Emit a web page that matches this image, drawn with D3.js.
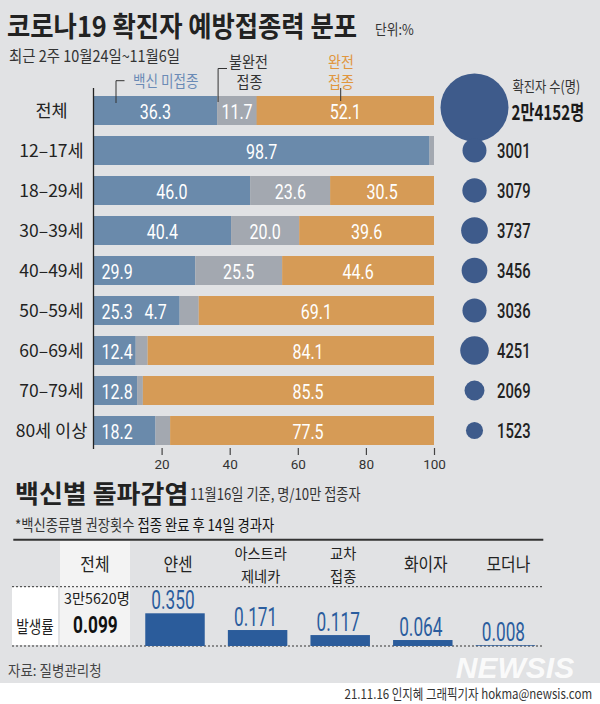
<!DOCTYPE html>
<html><head><meta charset="utf-8">
<script src="https://cdn.jsdelivr.net/npm/d3@7"></script>
<style>
html,body{margin:0;padding:0;background:#fff;}
svg{display:block;}
</style></head><body>
<svg id="c" width="600" height="704"></svg>
<script>
// ---------- data ----------
const groups = ["전체","12–17세","18–29세","30–39세","40–49세","50–59세","60–69세","70–79세","80세 이상"];
const unvaccinated = [36.3, 98.7, 46.0, 40.4, 29.9, 25.3, 12.4, 12.8, 18.2];
const partial      = [11.7, 1.3, 23.6, 20.0, 25.5, 4.7, 3.5, 1.7, 4.3];
const full         = [52.1, 0, 30.5, 39.6, 44.6, 69.1, 84.1, 85.5, 77.5];
const cases        = [24152, 3001, 3079, 3737, 3456, 3036, 4251, 2069, 1523];
const caseLabels   = ["2만4152명","3001","3079","3737","3456","3036","4251","2069","1523"];
const xTicks = [20, 40, 60, 80, 100];

const vaccines = ["전체","얀센","아스트라제네카","교차접종","화이자","모더나"];
const vaccineHeaders = [["전체"],["얀센"],["아스트라","제네카"],["교차","접종"],["화이자"],["모더나"]];
const rates = [0.099, 0.350, 0.171, 0.117, 0.064, 0.008];
const totalBreakthrough = "3만5620명";

// ---------- setup ----------
const KR = "'Noto Sans CJK KR', 'Noto Sans', sans-serif";
const NUM = "Roboto, 'Noto Sans', sans-serif";
const C = {bg:"#e1e2e4", blue:"#6a8aab", gray:"#a3a8b0", orange:"#d69b56",
           circle:"#3e5b8b", bar2:"#2b5c9b", legBlue:"#6b8bb6", legOrange:"#e0963e"};
const svg = d3.select("#c");

function txt(parent, x, y, str, o={}) {
  const g = parent.append("g").attr("transform", `translate(${x},${y}) scale(${o.sx||1},1)`);
  const t = g.append("text")
    .attr("text-anchor", o.anchor || "start")
    .style("font-family", o.font || KR)
    .style("font-size", (o.size || 14) + "px")
    .style("font-weight", o.weight || 400)
    .style("font-style", o.style || "normal")
    .attr("fill", o.fill || "#222")
    .text(str);
  if (o.opacity != null) t.attr("opacity", o.opacity);
  return t;
}

// background
svg.append("rect").attr("width",600).attr("height",683).attr("fill",C.bg);
svg.append("rect").attr("y",683).attr("width",600).attr("height",21).attr("fill","#fff");

// titles
txt(svg, 7, 37, "코로나19 확진자 예방접종력 분포", {size:28, sx:0.905, weight:700, fill:"#222"});
txt(svg, 375, 35, "단위:%", {size:14.5, sx:0.88, fill:"#333"});
txt(svg, 9, 62, "최근 2주 10월24일~11월6일", {size:16, sx:0.9, fill:"#333"});

// ---------- stacked bars ----------
const x = d3.scaleLinear().domain([0,100]).range([93.5, 434]);
const y = d3.scaleBand().domain(groups).range([90.5, 450.5]).paddingInner(0.275).paddingOuter(0.1375);
const bh = y.bandwidth();

const rows = svg.append("g").selectAll("g").data(groups).join("g")
  .attr("transform", d => `translate(0,${y(d)})`);

rows.append("rect").attr("x", x(0)).attr("height", bh)
  .attr("width", (d,i) => x(unvaccinated[i]) - x(0)).attr("fill", C.blue);
rows.append("rect").attr("x", (d,i) => x(unvaccinated[i])).attr("height", bh)
  .attr("width", (d,i) => x(Math.max(unvaccinated[i] + partial[i], 100 - full[i])) - x(unvaccinated[i]))
  .attr("fill", C.gray);
rows.filter((d,i) => full[i] > 0).append("rect")
  .attr("x", d => x(100 - full[groups.indexOf(d)])).attr("height", bh)
  .attr("width", d => x(100) - x(100 - full[groups.indexOf(d)])).attr("fill", C.orange);

// value labels
const LBL = {size:20, sx:0.8, font:NUM, fill:"#fff"};
groups.forEach((g, i) => {
  const yy = y(g) + 23.3;
  const u = unvaccinated[i], p = partial[i], f = full[i];
  if (u >= 32) txt(svg, (x(0) + x(u)) / 2, yy, u.toFixed(1), {...LBL, anchor:"middle"});
  else txt(svg, x(0) + 8, yy, u.toFixed(1), LBL);
  if (p >= 8) txt(svg, (x(u) + x(u + p)) / 2, yy, p.toFixed(1), {...LBL, anchor:"middle"});
  else if (p >= 4.5) txt(svg, x(u) - 13, yy, p.toFixed(1), {...LBL, anchor:"end"});
  if (f > 0) {
    const cx = Math.min(385, Math.max(308, (x(100 - f) + x(100)) / 2));
    txt(svg, cx, yy, f.toFixed(1), {...LBL, anchor:"middle"});
  }
  txt(svg, 51.5, y(g) + bh/2 + 6.5, g, {size:17.5, anchor:"middle", fill:"#222"});
});

// axis
svg.append("line").attr("x1", x(0)).attr("x2", x(0)).attr("y1", 88).attr("y2", 449)
  .attr("stroke","#222").attr("stroke-width",1.3);
const ax = svg.append("g").attr("transform","translate(0,448)")
  .call(d3.axisBottom(x).tickValues(xTicks).tickSize(7).tickPadding(4));
ax.select(".domain").remove();
ax.selectAll("line").attr("stroke","#444").attr("stroke-width",1.2);
ax.selectAll("text").style("font-family", NUM).style("font-size","13.5px").attr("fill","#333");

// legend annotations
const lg = svg.append("g").attr("fill","none").attr("stroke","#333").attr("stroke-width",1);
lg.append("path").attr("d", "M116,103V80.7H124.5");
lg.append("path").attr("d", `M${x(unvaccinated[0]) + 1},102V68.5H227`);
lg.append("path").attr("d", "M340.7,88V101");
txt(svg, 133, 86.5, "백신 미접종", {size:16, sx:0.85, fill:C.legBlue});
txt(svg, 248.5, 67.5, "불완전", {size:16, sx:0.88, anchor:"middle", fill:"#333"});
txt(svg, 249.5, 87.5, "접종", {size:16, sx:0.88, anchor:"middle", fill:"#333"});
txt(svg, 341, 67.5, "완전", {size:16, sx:0.88, anchor:"middle", fill:C.legOrange});
txt(svg, 341, 87.5, "접종", {size:16, sx:0.88, anchor:"middle", fill:C.legOrange});

// circles
const r = d3.scaleSqrt().domain([0, d3.max(cases)]).range([0, 34]);
svg.append("g").selectAll("circle").data(cases).join("circle")
  .attr("cx", 474.5).attr("cy", (d,i) => y(groups[i]) + bh/2 - (i === 0 ? 3 : 0))
  .attr("r", d => r(d)).attr("fill", C.circle);
txt(svg, 512.5, 91.5, "확진자 수(명)", {size:15, sx:0.82, fill:"#333"});
txt(svg, 511.5, 119.5, caseLabels[0], {size:20.5, sx:0.74, weight:700, fill:"#1a1a1a"});
caseLabels.slice(1).forEach((s, k) => {
  txt(svg, 497, y(groups[k+1]) + bh/2 + 7.2, s, {size:20, sx:0.74, font:NUM, weight:500, fill:"#222"});
});

// ---------- bottom section ----------
txt(svg, 15, 502.5, "백신별 돌파감염", {size:25.5, sx:1.02, weight:700, fill:"#222"});
txt(svg, 190, 500, "11월16일 기준, 명/10만 접종자", {size:15.5, sx:0.85, fill:"#333"});
const note = txt(svg, 15, 531, "", {size:15.5, sx:0.86, fill:"#333"});
note.append("tspan").text("*백신종류별 권장횟수 ");
note.append("tspan").attr("fill","#111").text("접종 완료 후 14일 경과자");

const xb = d3.scaleBand().domain(vaccines).range([51.1, 546.7]).paddingInner(0.28).paddingOuter(0.14);
const yb = d3.scaleLinear().domain([0, 0.35]).range([646, 613.3]);
const bw = xb.bandwidth();

svg.append("rect").attr("x", 60).attr("y", 541).attr("width", 70).attr("height", 105).attr("fill","#f3f3f3");
svg.append("rect").attr("x", 12).attr("y", 587).attr("width", 46).attr("height", 58).attr("fill","#fff");
svg.append("line").attr("x1",13.3).attr("x2",543.3).attr("y1",539.7).attr("y2",539.7)
  .attr("stroke","#333").attr("stroke-width",2);
[586.7, 646].forEach(yy => svg.append("line").attr("x1",12).attr("x2",543).attr("y1",yy).attr("y2",yy)
  .attr("stroke","#333").attr("stroke-width",1).attr("stroke-dasharray","2,2"));

vaccineHeaders.forEach((lines, i) => {
  const cx = xb(vaccines[i]) + bw/2 + (i === 0 ? 2.5 : 3);
  if (lines.length === 1) txt(svg, cx, 571, lines[0], {size:18, sx:0.88, anchor:"middle", fill:"#222"});
  else lines.forEach((l, k) => txt(svg, cx, 559 + k*22.5, l, {size:15, sx:0.95, anchor:"middle", fill:"#222"}));
});

svg.append("g").selectAll("rect").data(rates.slice(1)).join("rect")
  .attr("x", (d,i) => xb(vaccines[i+1])).attr("width", bw)
  .attr("y", d => yb(d)).attr("height", d => yb(0) - yb(d)).attr("fill", C.bar2);
rates.slice(1).forEach((v, i) => {
  txt(svg, xb(vaccines[i+1]) + bw/2 - 2, yb(v) - 4, v.toFixed(3),
      {size:25, sx:0.69, font:NUM, anchor:"middle", fill:"#2b5d9e"});
});
const c0 = xb(vaccines[0]) + bw/2 + 3;
txt(svg, c0 + 1.5, 604, totalBreakthrough, {size:15, sx:0.95, anchor:"middle", fill:"#222"});
txt(svg, c0, 633.3, rates[0].toFixed(3), {size:24, sx:0.72, font:NUM, weight:700, anchor:"middle", fill:"#111"});
txt(svg, 35, 633, "발생률", {size:17, sx:0.8, anchor:"middle", fill:"#222"});

// footer
txt(svg, 8, 676, "자료: 질병관리청", {size:15, sx:0.9, fill:"#444"});
txt(svg, 515, 678, "NEWSIS", {size:30, font:"'Liberation Sans', Arial, sans-serif", weight:700, style:"italic", anchor:"middle", fill:"#fff", opacity:0.85, sx:1.0});
txt(svg, 592, 699, "21.11.16 인지혜 그래픽기자 hokma@newsis.com", {size:13.5, sx:0.85, anchor:"end", fill:"#333"});
</script>
</body></html>
